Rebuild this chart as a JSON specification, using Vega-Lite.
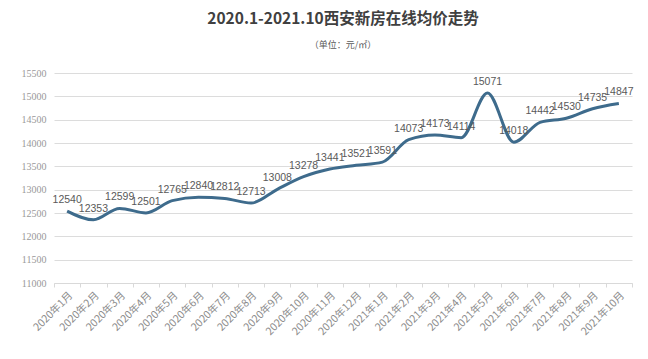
{
  "$schema": "https://vega.github.io/schema/vega-lite/v6.json",
  "width": 578,
  "height": 210,
  "autosize": {"type": "none"},
  "padding": {"left": 54, "top": 73, "right": 16, "bottom": 76},
  "background": "white",
  "title": {
    "text": "2020.1-2021.10西安新房在线均价走势",
    "subtitle": "（单位：元/㎡）",
    "anchor": "middle",
    "frame": "group",
    "font": "Noto Sans CJK SC",
    "fontSize": 15.5,
    "fontWeight": "bold",
    "color": "#404040",
    "subtitleFont": "Noto Sans CJK SC",
    "subtitleFontSize": 9,
    "subtitleColor": "#595959",
    "subtitlePadding": 14,
    "offset": 18
  },
  "data": {
    "values": [
      {"month": "2020年1月", "price": 12540},
      {"month": "2020年2月", "price": 12353},
      {"month": "2020年3月", "price": 12599},
      {"month": "2020年4月", "price": 12501},
      {"month": "2020年5月", "price": 12765},
      {"month": "2020年6月", "price": 12840},
      {"month": "2020年7月", "price": 12812},
      {"month": "2020年8月", "price": 12713},
      {"month": "2020年9月", "price": 13008},
      {"month": "2020年10月", "price": 13278},
      {"month": "2020年11月", "price": 13441},
      {"month": "2020年12月", "price": 13521},
      {"month": "2021年1月", "price": 13591},
      {"month": "2021年2月", "price": 14073},
      {"month": "2021年3月", "price": 14173},
      {"month": "2021年4月", "price": 14114},
      {"month": "2021年5月", "price": 15071},
      {"month": "2021年6月", "price": 14018},
      {"month": "2021年7月", "price": 14442},
      {"month": "2021年8月", "price": 14530},
      {"month": "2021年9月", "price": 14735},
      {"month": "2021年10月", "price": 14847}
    ]
  },
  "encoding": {
    "x": {
      "field": "month",
      "type": "ordinal",
      "sort": null,
      "title": null,
      "axis": {
        "labelAngle": -45,
        "labelAlign": "right",
        "labelBaseline": "top",
        "labelFont": "Noto Sans CJK SC",
        "labelFontSize": 10.5,
        "labelColor": "#8c8c8c",
        "labelPadding": 3,
        "domainColor": "#d9d9d9",
        "tickColor": "#d9d9d9",
        "tickSize": 4,
        "tickBand": "extent",
        "grid": false
      }
    },
    "y": {
      "field": "price",
      "type": "quantitative",
      "title": null,
      "scale": {"domain": [11000, 15500], "nice": false, "zero": false},
      "axis": {
        "values": [11000, 11500, 12000, 12500, 13000, 13500, 14000, 14500, 15000, 15500],
        "format": "d",
        "domain": false,
        "ticks": false,
        "labelFont": "Liberation Serif",
        "labelFontSize": 10,
        "labelColor": "#999999",
        "labelPadding": 8,
        "gridColor": "#dcdcdc",
        "gridWidth": 1
      }
    }
  },
  "layer": [
    {
      "mark": {"type": "line", "interpolate": "monotone", "color": "#3e6b8c", "strokeWidth": 3}
    },
    {
      "mark": {"type": "text", "dy": -11, "font": "Liberation Sans", "fontSize": 10.5, "color": "#595959"},
      "encoding": {"text": {"field": "price", "type": "quantitative", "format": "d"}}
    }
  ],
  "config": {"view": {"stroke": null}}
}
